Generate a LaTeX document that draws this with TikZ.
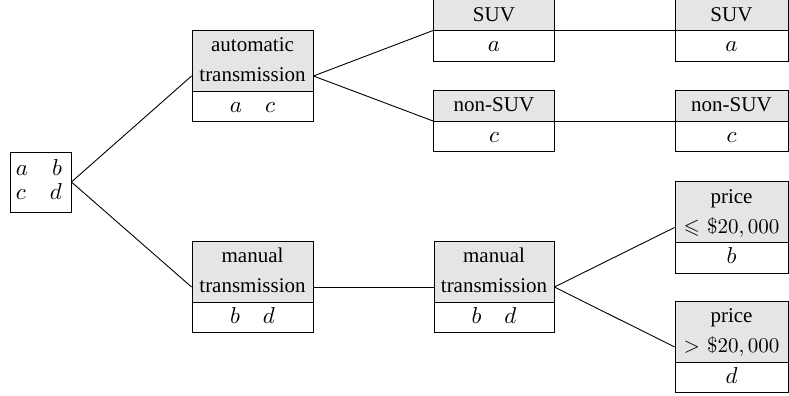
\RequirePackage{fix-cm}
\documentclass[tikz,border=0pt]{standalone}
\usepackage{amssymb}
\usepackage{fontspec}
\setmainfont{Liberation Serif}
\usetikzlibrary{shapes.multipart}
\newcommand\st{\rule[-4.5pt]{0pt}{15pt}}
\newcommand\mth{\fontsize{11.5}{15}\selectfont}
\tikzset{
  box/.style={rectangle split, rectangle split parts=2, draw, line width=0.45pt,
    rectangle split part fill={gray!20,white}, inner xsep=0pt, inner ysep=0pt,
    text width=#1, align=center, font=\fontsize{10.5}{15}\selectfont},
  rootbox/.style={draw, line width=0.45pt, inner xsep=0pt, inner ysep=0pt, text width=30.5pt,
    align=left, font=\fontsize{11.5}{12.5}\selectfont},
  link/.style={draw, line width=0.45pt}
}
\begin{document}
\begin{tikzpicture}[x=0.5pt,y=-0.5pt]
\useasboundingbox (0,0) rectangle (789,396);
\node[rootbox] (root) at (40.5,182) {\rule{0pt}{11.5pt}\hspace*{3pt}$a$\hspace*{12pt}$b$\\\rule[-6pt]{0pt}{6pt}\hspace*{3pt}$c$\hspace*{12pt}$d$};
\node[box=60.5pt] (auto) at (252.5,76) {\st automatic\\\st transmission\nodepart{two}\mth\st$a\quad c$};
\node[box=60.5pt] (man1) at (252.5,287) {\st manual\\\st transmission\nodepart{two}\mth\st$b\quad d$};
\node[box=60.5pt] (suv1) at (494,30.5) {\st SUV\nodepart{two}\mth\st$a$};
\node[box=60.5pt] (non1) at (494,121) {\st non-SUV\nodepart{two}\mth\st$c$};
\node[box=60pt] (man2) at (494,287) {\st manual\\\st transmission\nodepart{two}\mth\st$b\quad d$};
\node[box=56.5pt] (suv2) at (731.5,30.5) {\st SUV\nodepart{two}\mth\st$a$};
\node[box=56.5pt] (non2) at (731.5,121) {\st non-SUV\nodepart{two}\mth\st$c$};
\node[box=56.5pt] (pr1) at (731.5,227.5) {\st price\\\st$\leqslant \$20,000$\nodepart{two}\mth\st$b$};
\node[box=56.5pt] (pr2) at (731.5,347) {\st price\\\st$> \$20,000$\nodepart{two}\mth\st$d$};
\draw[link] (root.east) -- (auto.west);
\draw[link] (root.east) -- (man1.west);
\draw[link] (auto.east) -- (suv1.west);
\draw[link] (auto.east) -- (non1.west);
\draw[link] (suv1.east) -- (suv2.west);
\draw[link] (non1.east) -- (non2.west);
\draw[link] (man1.east) -- (man2.west);
\draw[link] (man2.east) -- (pr1.west);
\draw[link] (man2.east) -- (pr2.west);
\end{tikzpicture}
\end{document}
